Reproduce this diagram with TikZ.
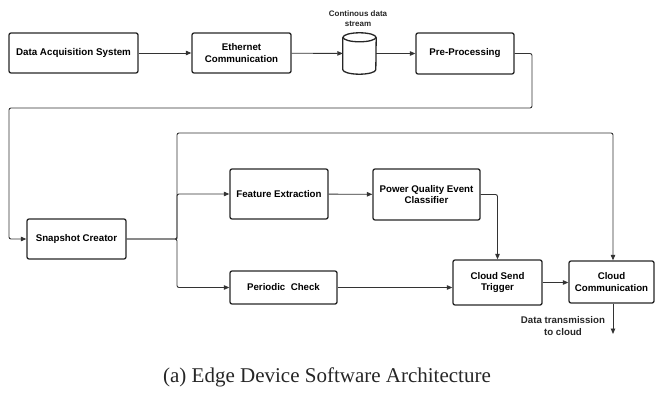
\documentclass[tikz,border=0pt]{standalone}
\usepackage{fontspec}
\setmainfont{Liberation Serif}
\setsansfont{Liberation Sans}
\usetikzlibrary{arrows.meta}
\definecolor{ink}{HTML}{262626}
\definecolor{wire}{HTML}{333333}
\tikzset{
  blk/.style={draw=ink, line width=1.3pt, rounded corners=2pt, align=center,
    inner sep=2pt, font=\sffamily\bfseries\fontsize{9.7}{11.5}\selectfont},
  drum/.style={draw=ink, line width=1.3pt},
  conn/.style={draw=wire, line width=0.9pt, rounded corners=2pt,
    -{Triangle[length=5.5pt,width=4.5pt]}},
  note/.style={align=center, font=\sffamily\bfseries\fontsize{8}{9.5}\selectfont, text=ink}
}
\begin{document}
\begin{tikzpicture}[x=1pt,y=-1pt]
\useasboundingbox (0,0) rectangle (655,403);

% top row
\node[blk, minimum width=129, minimum height=40, font=\sffamily\bfseries\fontsize{9.8}{11.5}\selectfont] (daq) at (73.5,53) {Data Acquisition System};
\node[blk, minimum width=99, minimum height=40] (eth) at (241.5,53) {Ethernet\\Communication};
\node[minimum width=33, minimum height=41, inner sep=0pt] (cyl) at (359.5,53.5) {};
\node[blk, minimum width=98, minimum height=41] (pre) at (465,53.5) {Pre-Processing};
\node[note] (stream) at (358,18.5) {Continous data\\stream};

% data store drawn as a cylinder
\draw[drum] ([yshift=-4.5pt]cyl.north west) -- ([yshift=4.5pt]cyl.south west)
  arc[start angle=180, end angle=360, x radius=16.5pt, y radius=4.5pt]
  -- ([yshift=-4.5pt]cyl.north east);
\draw[drum] ([yshift=-4.5pt]cyl.north) ellipse [x radius=16.5pt, y radius=4.5pt];

% lower part
\node[blk, minimum width=99, minimum height=40] (snap) at (76.5,239) {Snapshot Creator};
\node[blk, minimum width=98, minimum height=50] (feat) at (279,194) {Feature Extraction};
\node[blk, minimum width=107, minimum height=51] (pq) at (426.5,194.5) {Power Quality Event\\Classifier};
\node[blk, minimum width=107, minimum height=33] (per) at (283.5,287.5) {Periodic~ Check};
\node[blk, minimum width=89, minimum height=45] (cst) at (497.5,282.5) {Cloud Send\\Trigger};
\node[blk, minimum width=85, minimum height=42] (cc) at (611.5,282) {Cloud\\Communication};
\node[note, font=\sffamily\bfseries\fontsize{9.7}{12}\selectfont] (tx) at (563,326) {Data transmission\\to cloud};

\coordinate (loopR) at (532,108);
\coordinate (loopL) at (9,108);
\coordinate (split) at (177,239);
\coordinate (topR) at (613,133);
\coordinate (out) at (613,334);

% connectors
\draw[conn] (daq) -- (eth);
\draw[conn] (eth) -- (cyl);
\draw[conn] (cyl) -- (pre);
\draw[conn] (pre.east) -| (loopR) -- (loopL) |- (snap.west);
\draw[conn] (snap.east) -- (split) |- (feat.west);
\draw[conn] (snap.east) -- (split) |- (per.west);
\draw[conn] (split) |- (topR) -- (topR |- cc.north);
\draw[conn] (feat) -- (pq);
\draw[conn] (pq.east) -| (cst.north);
\draw[conn] (per.east) -- (per.east -| cst.west);
\draw[conn] (cst.east) -- (cst.east -| cc.west);
\draw[conn] (topR |- cc.south) -- (out);

% caption
\node[font=\fontsize{21}{24}\selectfont, text=ink] (cap) at (327,377) {(a) Edge Device Software Architecture};
\end{tikzpicture}
\end{document}
